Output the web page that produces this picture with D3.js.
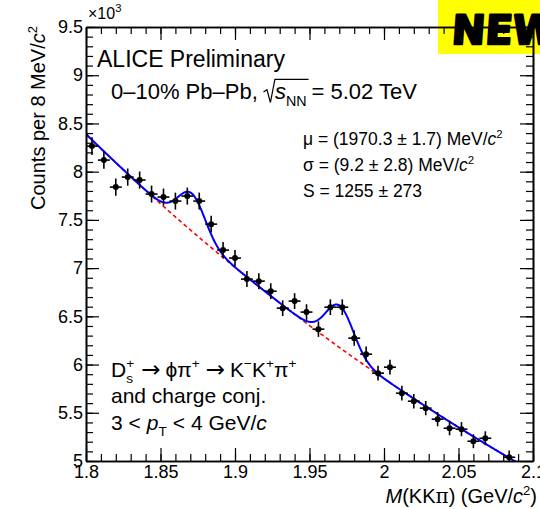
<!DOCTYPE html>
<html>
<head>
<meta charset="utf-8">
<script src="https://cdn.jsdelivr.net/npm/d3@7"></script>
<style>
  html, body { margin: 0; padding: 0; background: #fff; }
  svg { display: block; }
  text { font-family: "Liberation Sans", Arial, Helvetica, sans-serif; fill: #000; white-space: pre; }
</style>
</head>
<body>
<svg id="chart" width="540" height="509"></svg>
<script>
// Invariant-mass bins (GeV/c^2, bin centres, 8 MeV wide)
const masses = [1.804, 1.812, 1.820, 1.828, 1.836, 1.844, 1.852, 1.860, 1.868, 1.876,
                1.884, 1.892, 1.900, 1.908, 1.916, 1.924, 1.932, 1.940, 1.948, 1.956,
                1.964, 1.972, 1.980, 1.988, 1.996, 2.004, 2.012, 2.020, 2.028, 2.036,
                2.044, 2.052, 2.060, 2.068, 2.084];
// Entries per bin
const counts = [8265, 8120, 7840, 7944, 7913, 7768, 7737, 7695, 7747, 7695,
                7456, 7187, 7104, 6886, 6865, 6761, 6585, 6658, 6544, 6367,
                6595, 6595, 6274, 6108, 5911, 5973, 5703, 5620, 5548, 5434,
                5340, 5330, 5205, 5236, 5039];
// Statistical uncertainty per bin
const errors = [91, 90, 89, 89, 89, 88, 88, 88, 88, 88,
                86, 85, 84, 83, 83, 82, 81, 82, 81, 80,
                81, 81, 79, 78, 77, 77, 76, 75, 74, 74,
                73, 73, 72, 72, 71];
const binWidth = 0.008;

// Axis ticks
const xMajorTicks = [1.8, 1.85, 1.9, 1.95, 2.0, 2.05, 2.1];
const xTickLabels = ["1.8", "1.85", "1.9", "1.95", "2", "2.05", "2.1"];
const yMajorTicks = [5000, 5500, 6000, 6500, 7000, 7500, 8000, 8500, 9000, 9500];
const yTickLabels = ["5", "5.5", "6", "6.5", "7", "7.5", "8", "8.5", "9", "9.5"];

// Fit: exponential background + two Gaussians (D+ and Ds)
const bgNorm = 8390, bgSlope = 1.80;           // counts at 1.8 GeV/c^2, slope per GeV/c^2
const dsMu = 1.9703, dsSigma = 0.0092, dsYield = 1255;
const dpMu = 1.8710, dpSigma = 0.0090, dpYield = 1100;

const frame = { left: 86, right: 533, top: 27, bottom: 461 };

const svg = d3.select("#chart");
const x = d3.scaleLinear().domain([1.8, 2.1]).range([frame.left, frame.right]);
const y = d3.scaleLinear().domain([5000, 9500]).range([frame.bottom, frame.top]);

function background(m) { return bgNorm * Math.exp(-bgSlope * (m - 1.8)); }
function gauss(m, mu, s, n) {
  return n * binWidth / (s * Math.sqrt(2 * Math.PI)) * Math.exp(-0.5 * ((m - mu) / s) ** 2);
}
function total(m) { return background(m) + gauss(m, dsMu, dsSigma, dsYield) + gauss(m, dpMu, dpSigma, dpYield); }

// clip region for the plotted functions
svg.append("defs").append("clipPath").attr("id", "frameClip")
  .append("rect").attr("x", frame.left).attr("y", frame.top)
  .attr("width", frame.right - frame.left).attr("height", frame.bottom - frame.top);

// NEW badge
svg.append("rect").attr("x", 438).attr("y", 0).attr("width", 102).attr("height", 54).attr("fill", "#ffff00");
svg.append("text").attr("x", 451).attr("y", 44)
  .attr("transform", "skewX(-4) translate(3,0)")
  .style("font-family", "'DejaVu Sans', sans-serif").style("font-weight", "bold")
  .style("font-size", "40px").attr("stroke", "#000").attr("stroke-width", 2.5)
  .attr("stroke-linejoin", "round").text("NEW");

// Functions
const samples = d3.range(0, 601).map(i => 1.8 + i * 0.3 / 600);
const curve = f => d3.line().x(m => x(m)).y(m => y(f(m)))(samples);
const fg = svg.append("g").attr("clip-path", "url(#frameClip)");
fg.append("path").attr("d", curve(background)).attr("fill", "none")
  .attr("stroke", "#ff0000").attr("stroke-width", 1.6).attr("stroke-dasharray", "4,3");
fg.append("path").attr("d", curve(total)).attr("fill", "none")
  .attr("stroke", "#0000ff").attr("stroke-width", 2);

// Data points with error bars
const pts = svg.append("g");
masses.forEach((m, i) => {
  const cx = x(m), cy = y(counts[i]);
  pts.append("line").attr("x1", x(m - binWidth / 2)).attr("x2", x(m + binWidth / 2))
    .attr("y1", cy).attr("y2", cy).attr("stroke", "#000").attr("stroke-width", 1.6);
  pts.append("line").attr("x1", cx).attr("x2", cx)
    .attr("y1", Math.min(y(counts[i] - errors[i]), frame.bottom)).attr("y2", y(counts[i] + errors[i]))
    .attr("stroke", "#000").attr("stroke-width", 1.6);
  pts.append("circle").attr("cx", cx).attr("cy", cy).attr("r", 3).attr("fill", "#000");
});

// Axes (ticks inside the frame, all four sides)
const xMinor = d3.range(0, 31).map(i => 1.8 + i * 0.01);
const yMinor = d3.range(0, 46).map(i => 5000 + i * 100);
const fmtX = d => xTickLabels[xMajorTicks.findIndex(t => Math.abs(t - d) < 1e-9)];
const fmtY = d => yTickLabels[yMajorTicks.indexOf(d)];

function styleAxis(g) {
  g.selectAll("path.domain").attr("stroke", "#000").attr("stroke-width", 1.6);
  g.selectAll(".tick line").attr("stroke", "#000").attr("stroke-width", 1.2);
  g.selectAll("text").style("font-family", "'Liberation Sans', Arial, sans-serif").style("font-size", "18px").attr("fill", "#000");
}

const axB = svg.append("g").attr("transform", `translate(0,${frame.bottom})`);
axB.call(d3.axisBottom(x).tickValues(xMinor).tickSize(-7).tickFormat("").tickSizeOuter(0));
axB.append("g").call(d3.axisBottom(x).tickValues(xMajorTicks).tickSize(-13).tickPadding(4).tickFormat(fmtX).tickSizeOuter(0));
styleAxis(axB);

const axT = svg.append("g").attr("transform", `translate(0,${frame.top})`);
axT.call(d3.axisTop(x).tickValues(xMinor).tickSize(-7).tickFormat("").tickSizeOuter(0));
axT.append("g").call(d3.axisTop(x).tickValues(xMajorTicks).tickSize(-13).tickFormat("").tickSizeOuter(0));
styleAxis(axT);

const axL = svg.append("g").attr("transform", `translate(${frame.left},0)`);
axL.call(d3.axisLeft(y).tickValues(yMinor).tickSize(-7).tickFormat("").tickSizeOuter(0));
axL.append("g").call(d3.axisLeft(y).tickValues(yMajorTicks).tickSize(-13).tickPadding(3).tickFormat(fmtY).tickSizeOuter(0));
styleAxis(axL);

const axR = svg.append("g").attr("transform", `translate(${frame.right},0)`);
axR.call(d3.axisRight(y).tickValues(yMinor).tickSize(-7).tickFormat("").tickSizeOuter(0));
axR.append("g").call(d3.axisRight(y).tickValues(yMajorTicks).tickSize(-13).tickFormat("").tickSizeOuter(0));
styleAxis(axR);

// Rich text helper: segments laid out left to right
function rich(parent, x0, y0, size, segs, anchor) {
  const g = parent.append("g");
  let cx = 0, prevX = 0;
  segs.forEach(s => {
    const fs = size * (s.scale || 1);
    const startX = (s.stack ? prevX : cx) + (s.pre || 0);
    const t = g.append("text").attr("x", startX).attr("y", (s.dy || 0) * size)
      .style("font-size", fs + "px").text(s.t);
    if (s.italic) t.style("font-style", "italic");
    if (s.family) t.style("font-family", s.family);
    const w = t.node().getComputedTextLength();
    if (!s.stack) { prevX = startX; cx = startX + w + (s.gap || 0); }
    else { cx = Math.max(cx, startX + w + (s.gap || 0)); }
    s.x0 = startX; s.x1 = startX + w;
  });
  const shift = anchor === "end" ? -cx : 0;
  g.attr("transform", `translate(${x0 + shift},${y0})`);
  return { g, width: cx, segs };
}

// axis titles
rich(svg, 537, 503, 20, [
  { t: "M", italic: true }, { t: "(KK" }, { t: "π", family: "'DejaVu Serif', serif" }, { t: ") (GeV/" },
  { t: "c", italic: true }, { t: "2", scale: 0.65, dy: -0.4 }, { t: ")" }
], "end");

const yl = rich(svg, 0, 0, 20, [
  { t: "Counts per 8 MeV/" }, { t: "c", italic: true }, { t: "2", scale: 0.65, dy: -0.4 }
]);
yl.g.attr("transform", `translate(45,${26 + yl.width}) rotate(-90)`);

// exponent of the y axis
rich(svg, 88, 19, 16, [{ t: "×10" }, { t: "3", scale: 0.7, dy: -0.45 }]);

// labels inside the frame
rich(svg, 97, 67, 23, [{ t: "ALICE Preliminary" }]);

const sysSize = 22;
const sys = rich(svg, 111, 99, sysSize, [
  { t: "0–10% Pb–Pb, ", gap: 11 },
  { t: "s", italic: true },
  { t: "NN", scale: 0.65, dy: 0.3, gap: 5 },
  { t: "= 5.02 TeV" }
]);
{
  // radical sign over s_NN
  const k = sysSize / 19;
  const rx = sys.segs[1].x0 - 1, end = sys.segs[2].x1 + 2;
  const path = `M${rx - 9 * k},${-6 * k} L${rx - 6 * k},${-8 * k} L${rx - 3 * k},${3 * k} L${rx + 1},${-17 * k} L${end},${-17 * k}`;
  sys.g.append("path").attr("d", path).attr("fill", "none").attr("stroke", "#000").attr("stroke-width", 1.2);
}

rich(svg, 303, 145, 17.5, [
  { t: "μ = (1970.3 ± 1.7) MeV/" }, { t: "c", italic: true }, { t: "2", scale: 0.65, dy: -0.4 }
]);
rich(svg, 303, 171, 17.5, [
  { t: "σ = (9.2 ± 2.8) MeV/" }, { t: "c", italic: true }, { t: "2", scale: 0.65, dy: -0.4 }
]);
rich(svg, 303, 197, 17.5, [{ t: "S = 1255 ± 273" }]);

const arrowFont = "'DejaVu Sans', sans-serif";
const decaySize = 21;
rich(svg, 111, 377, decaySize, [
  { t: "D" }, { t: "+", scale: 0.65, dy: -0.45 }, { t: "s", scale: 0.65, dy: 0.3, stack: true },
  { t: "→", family: arrowFont, scale: 1.1, pre: 7, gap: 5 }, { t: "ϕπ" }, { t: "+", scale: 0.65, dy: -0.45 },
  { t: "→", family: arrowFont, scale: 1.1, pre: 6, gap: 5 }, { t: "K" }, { t: "−", scale: 0.65, dy: -0.45 }, { t: "K" },
  { t: "+", scale: 0.65, dy: -0.45 }, { t: "π" }, { t: "+", scale: 0.65, dy: -0.45 }
]);
rich(svg, 111, 403, decaySize, [{ t: "and charge conj." }]);
rich(svg, 111, 430, decaySize, [
  { t: "3 " }, { t: "<", gap: 3 }, { t: "p", italic: true, pre: 3 }, { t: "T", scale: 0.65, dy: 0.3, gap: 3 },
  { t: "<", pre: 3 }, { t: " 4 GeV/" }, { t: "c", italic: true }
]);
</script>
</body>
</html>
